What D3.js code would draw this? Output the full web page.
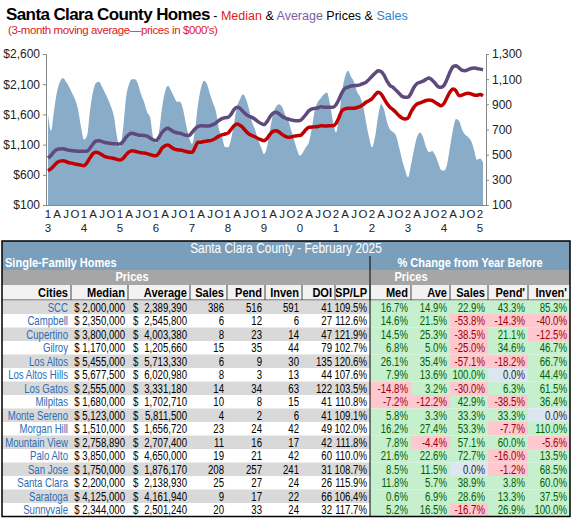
<!DOCTYPE html>
<html><head><meta charset="utf-8">
<script src="https://cdn.jsdelivr.net/npm/d3@7"></script>
<style>body{margin:0;background:#fff}svg{display:block;font-family:"Liberation Sans",Arial,sans-serif}</style>
</head><body><svg id="c" width="575" height="519"></svg>
<script>
// Monthly data Jan 2013 - Feb 2025 (3-mo moving avg), prices in $000s
const median = [
668,700,750,800,825,834,820,800,790,779,770,760,
751,800,880,950,972,960,930,900,889,880,870,855,
845,870,930,980,1000,990,975,965,960,950,935,920,
917,960,1040,1080,1093,1060,1030,1015,1010,1000,985,975,
972,1050,1138,1140,1150,1160,1165,1180,1210,1240,1260,1275,
1290,1350,1410,1441,1420,1380,1320,1275,1250,1230,1200,1180,
1165,1200,1270,1320,1331,1310,1270,1240,1220,1225,1240,1248,
1250,1290,1350,1386,1390,1395,1400,1413,1410,1410,1413,1413,
1450,1550,1662,1690,1700,1700,1700,1715,1728,1760,1800,1827,
1860,1920,1965,1940,1860,1780,1717,1680,1630,1580,1540,1524,
1540,1640,1720,1772,1790,1810,1830,1838,1830,1800,1770,1745,
1780,1880,1970,2020,1990,1910,1920,1940,1949,1940,1920,1915,
1930,1910];
const average = [
878,920,980,1020,1027,1030,1020,1005,1000,995,990,990,
990,989,1040,1110,1160,1165,1150,1135,1127,1120,1115,1112,
1110,1150,1220,1270,1287,1275,1260,1255,1250,1240,1210,1180,
1165,1220,1300,1350,1369,1340,1310,1295,1287,1270,1255,1250,
1300,1360,1400,1413,1410,1410,1413,1430,1460,1500,1530,1545,
1551,1600,1680,1717,1700,1650,1600,1570,1551,1520,1480,1450,
1430,1480,1560,1620,1634,1610,1570,1540,1524,1510,1500,1496,
1500,1540,1600,1662,1690,1700,1710,1728,1720,1720,1717,1717,
1760,1850,1960,2031,2050,2070,2076,2080,2090,2110,2131,2180,
2230,2280,2324,2310,2250,2150,2080,2048,2000,1950,1900,1883,
1883,1950,2050,2110,2131,2150,2180,2203,2170,2120,2060,2048,
2080,2180,2300,2390,2407,2370,2330,2324,2340,2360,2368,2360,
2350,2340];
const sales = [
820,690,850,1000,1080,1110,1080,1040,990,940,860,720,
620,650,850,1000,1070,1080,1040,990,940,880,800,640,
560,700,950,1060,1100,1100,1060,980,920,840,800,640,
590,680,870,1000,1048,1010,960,920,920,860,740,640,
585,700,900,1030,1088,1060,980,910,840,700,640,560,
558,620,750,880,940,980,940,860,760,700,620,560,
505,560,700,820,880,900,880,820,780,700,620,540,
492,520,560,600,720,860,920,950,980,995,900,760,
677,800,1000,1120,1167,1120,1080,1000,960,890,760,640,
558,640,800,900,860,760,700,680,650,560,460,380,
320,420,540,640,677,640,560,520,530,500,440,380,
373,420,560,700,783,770,700,660,640,610,540,460,
470,440];
const leftTicks = [100,600,1100,1600,2100,2600];
const rightTicks = [100,300,500,700,900,1100,1300];
const quarterLabels = ["A","J","O"];
const years = ["13","14","15","16","17","18","19","20","21","22","23","24","25"];

const tableTitle = "Santa Clara County - February 2025";
const headers = ["Cities","Median","Average","Sales","Pend","Inven","DOI","SP/LP","Med","Ave","Sales","Pend'","Inven'"];
const cities = ["SCC","Campbell","Cupertino","Gilroy","Los Altos","Los Altos Hills","Los Gatos","Milpitas","Monte Sereno","Morgan Hill","Mountain View","Palo Alto","San Jose","Santa Clara","Saratoga","Sunnyvale"];
const medians = ["2,000,000","2,350,000","3,800,000","1,170,000","5,455,000","5,677,500","2,555,000","1,680,000","5,123,000","1,510,000","2,758,890","3,850,000","1,750,000","2,200,000","4,125,000","2,344,000"];
const averages = ["2,389,390","2,545,800","4,003,380","1,205,660","5,713,330","6,020,980","3,331,180","1,702,710","5,811,500","1,656,720","2,707,400","4,650,000","1,876,170","2,138,930","4,161,940","2,501,240"];
const salesCnt = [386,6,8,15,6,8,14,10,4,23,11,19,208,25,9,20];
const pend = [516,12,23,35,9,3,34,8,2,24,16,21,257,27,17,33];
const inven = [591,6,14,44,30,13,63,15,6,42,17,42,241,24,22,24];
const doi = [41,27,47,79,135,44,122,41,41,49,42,60,31,26,66,32];
const splp = ["109.5%","112.6%","121.9%","102.7%","120.6%","107.6%","103.5%","110.8%","109.1%","102.0%","111.8%","110.0%","108.7%","115.9%","106.4%","117.7%"];
const chMed = [16.7,14.6,14.5,6.8,26.1,7.9,-14.8,-7.2,5.8,16.2,7.8,21.6,8.5,11.8,0.6,5.2];
const chAve = [14.9,21.5,25.3,5.0,35.4,13.6,3.2,-12.2,3.3,27.4,-4.4,22.6,11.5,5.7,6.9,16.5];
const chSales = [22.9,-53.8,-38.5,-25.0,-57.1,100.0,-30.0,42.9,33.3,53.3,57.1,72.7,0.0,38.9,28.6,-16.7];
const chPend = [43.3,-14.3,21.1,34.6,-18.2,0.0,6.3,-38.5,33.3,-7.7,60.0,-16.0,-1.2,3.8,13.3,26.9];
const chInven = [85.3,-40.0,-12.5,46.7,66.7,44.4,61.5,36.4,0.0,110.0,-5.6,13.5,68.5,60.0,37.5,100.0];

const svg = d3.select("#c");
// narrow text helper
function nt(g,x,y,txt,opt){
  opt=opt||{};
  const s=opt.sx||0.74;
  return g.append("text").attr("transform",`translate(${x},${y}) scale(${s},1)`)
    .attr("text-anchor",opt.anchor||"end").attr("font-size",opt.size||13)
    .attr("font-weight",opt.bold?"bold":null).attr("fill",opt.fill||"#000").text(txt);
}
// Title
const t = svg.append("text").attr("x",6).attr("y",20);
t.append("tspan").text("Santa Clara County Homes").attr("font-weight","bold").attr("font-size",17).attr("fill","#000").attr("letter-spacing",-0.6);
const parts = [[" - ","#000"],["Median","#e02020"],[" & ","#000"],["Average","#7d5ca6"],[" Prices & ","#000"],["Sales","#2e86c8"]];
parts.forEach(p=>t.append("tspan").text(p[0]).attr("fill",p[1]).attr("font-size",12.5));
svg.append("text").attr("x",8).attr("y",34).attr("font-size",11.5).attr("fill","#e02020").attr("letter-spacing",-0.4).text("(3-month moving average\u2014prices in $000's)");

const x = d3.scaleLinear().domain([0,145]).range([48,483]);
const yL = d3.scaleLinear().domain([100,2600]).range([205,54]);
const yR = d3.scaleLinear().domain([100,1300]).range([205,54]);

svg.append("path").datum(sales).attr("fill","#89adc9")
  .attr("d",d3.area().x((d,i)=>x(i)).y0(yR(100)).y1(d=>yR(d)).curve(d3.curveMonotoneX));
svg.append("path").datum(average).attr("fill","none").attr("stroke","#5f4a7d").attr("stroke-width",3.5)
  .attr("d",d3.line().x((d,i)=>x(i)).y(d=>yL(d)).curve(d3.curveMonotoneX));
svg.append("path").datum(median).attr("fill","none").attr("stroke","#c00000").attr("stroke-width",3.5)
  .attr("d",d3.line().x((d,i)=>x(i)).y(d=>yL(d)).curve(d3.curveMonotoneX));

const gl = svg.append("g").attr("transform","translate(46,0)")
  .call(d3.axisLeft(yL).tickValues(leftTicks).tickFormat(d=>"$"+d3.format(",")(d)).tickSize(3));
const gr = svg.append("g").attr("transform","translate(486,0)")
  .call(d3.axisRight(yR).tickValues(rightTicks).tickFormat(d3.format(",")).tickSize(3));
[gl,gr].forEach(g=>{g.selectAll("path,line").attr("stroke","#888");g.selectAll("text").attr("font-size",12).attr("fill","#222").attr("font-family","Liberation Sans, Arial");});
svg.append("line").attr("x1",46).attr("x2",486).attr("y1",205.5).attr("y2",205.5).attr("stroke","#888");

const xl = svg.append("g").attr("font-size",11.5).attr("fill","#222").attr("text-anchor","middle");
years.forEach((yy,k)=>{
  xl.append("text").attr("x",x(k*12)).attr("y",218).text(yy[0]);
  xl.append("text").attr("x",x(k*12)).attr("y",232).text(yy[1]);
  if(k<years.length-1) quarterLabels.forEach((q,j)=>xl.append("text").attr("x",x(k*12+3*(j+1))).attr("y",218).text(q));
});

// Table
const T = svg.append("g");
const blue="#7b9fbb", gray="#a6a6a6", light="#d9d9d9";
const L=2,R=570,mid=370;
const colX=[L,71,128,190,227,265,302,335,mid,411,450,488,528,R];
T.append("rect").attr("x",L).attr("y",241).attr("width",R-L).attr("height",15).attr("fill",blue);
nt(T,(L+R)/2,253,tableTitle,{anchor:"middle",size:14,fill:"#fff",sx:0.85});
T.append("rect").attr("x",L).attr("y",256).attr("width",R-L).attr("height",14).attr("fill",blue);
nt(T,5,267,"Single-Family Homes",{anchor:"start",size:13,fill:"#fff",bold:true,sx:0.85});
nt(T,(mid+R)/2,267,"% Change from Year Before",{anchor:"middle",size:13,fill:"#fff",bold:true,sx:0.85});
T.append("rect").attr("x",L).attr("y",270).attr("width",R-L).attr("height",15).attr("fill",gray);
nt(T,132,281,"Prices",{anchor:"middle",size:13,fill:"#fff",bold:true,sx:0.85});
nt(T,411,281,"Prices",{anchor:"middle",size:13,fill:"#fff",bold:true,sx:0.85});
T.append("rect").attr("x",L).attr("y",285).attr("width",R-L).attr("height",15).attr("fill","#f2f2f2");
headers.forEach((h,i)=>nt(T,colX[i+1]-3,297,h,{bold:true,size:13,sx:0.85}));
colX.slice(1,-1).forEach(cx=>T.append("line").attr("x1",cx).attr("x2",cx).attr("y1",285).attr("y2",300).attr("stroke","#444"));
T.append("line").attr("x1",L).attr("x2",R).attr("y1",300).attr("y2",300).attr("stroke","#444");
const rh=13.5, y0=300.5;
const pct=v=>v.toFixed(1)+"%";
cities.forEach((c,r)=>{
  const yy=y0+r*rh;
  if(r%2===0) T.append("rect").attr("x",L).attr("y",yy).attr("width",mid-L).attr("height",rh).attr("fill",light);
  const cells=[[c,"#2d6db5"],["$ "+medians[r],"#000"],[averages[r],"#000"],[salesCnt[r],"#000"],[pend[r],"#000"],[inven[r],"#000"],[doi[r],"#000"],[splp[r],"#000"]];
  cells.forEach((cl,i)=>nt(T,colX[i+1]-3,yy+11,cl[0],{fill:cl[1]}));
  nt(T,133,yy+11,"$",{anchor:"start"});
  [chMed,chAve,chSales,chPend,chInven].forEach((arr,j)=>{
    const v=arr[r];
    const bg=v>0?"#c6efce":v<0?"#ffc7ce":"#dce6f1";
    const fg=v>0?"#006100":v<0?"#9c0006":"#1f1f1f";
    T.append("rect").attr("x",colX[8+j]).attr("y",yy).attr("width",colX[9+j]-colX[8+j]).attr("height",rh).attr("fill",bg);
    nt(T,colX[9+j]-3,yy+11,pct(v),{fill:fg});
  });
});
const yEnd=y0+cities.length*rh;
T.append("line").attr("x1",mid).attr("x2",mid).attr("y1",256).attr("y2",yEnd).attr("stroke","#000");
T.append("rect").attr("x",L).attr("y",241).attr("width",R-L).attr("height",yEnd-241).attr("fill","none").attr("stroke","#000").attr("stroke-width",1.5);
</script></body></html>
